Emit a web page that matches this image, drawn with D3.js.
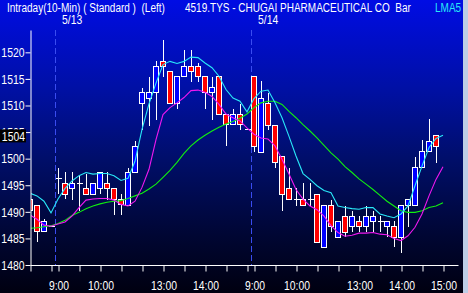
<!DOCTYPE html>
<html>
<head>
<meta charset="utf-8">
<script src="https://cdn.jsdelivr.net/npm/d3@7"></script>
<style>
  body { margin: 0; background: #000010; }
  svg { display: block; }
</style>
</head>
<body>
<div id="chart-area"></div>
<script>
// 10-minute bars, previous day's last 4 bars, then 5/13 and 5/14
const times = ["14:30","14:40","14:50","15:00",
  "9:00","9:10","9:20","9:30","9:40","9:50","10:00","10:10","10:20","10:30","10:40","10:50",
  "12:30","12:40","12:50","13:00","13:10","13:20","13:30","13:40","13:50","14:00","14:10","14:20","14:30","14:40","14:50","15:00",
  "9:00","9:10","9:20","9:30","9:40","9:50","10:00","10:10","10:20","10:30","10:40","10:50",
  "12:30","12:40","12:50","13:00","13:10","13:20","13:30","13:40","13:50","14:00","14:10","14:20","14:30","14:40","14:50","15:00"]
const dayLabels = ["5/13", "5/14"]
const labelTimes = ["9:00", "10:00", "13:00", "14:00", "15:00"]
const yTicks = [1480, 1485, 1490, 1495, 1500, 1505, 1510, 1515, 1520]
const lastPrice = 1504

const open  = [1492.3,1491.2,1486.3,1487.2,1496.2,1495.4,1494.4,1495.4,1494.4,1493.3,1494.4,1495.4,1494.4,1492.3,1491.2,1497.4,
  1510.3,1511.4,1512.4,1518.3,1516.4,1510.3,1515.4,1517.4,1517.4,1515.4,1512.4,1515.4,1508.4,1506.4,1508.4,1505.5,
  1515.4,1501.2,1510.4,1506.3,1500.4,1494.4,1492.4,1492.3,1492.4,1493.2,1483.3,1491.1,1485.2,1489.2,1487.2,1488.1,
  1487.2,1488.1,1488.2,1487.2,1487.2,1485.2,1491.1,1491.1,1498.3,1501.3,1504.4]
const high  = [1493.0,1491.2,1488.6,1487.2,1498.3,1497.5,1497.5,1496.9,1497.2,1495.4,1497.4,1497.4,1494.4,1493.3,1498.3,1503.4,
  1513.3,1515.4,1518.3,1522.4,1516.4,1515.4,1520.5,1520.5,1518.0,1515.4,1515.4,1515.4,1508.4,1509.4,1510.3,1505.5,
  1515.4,1514.6,1512.4,1506.3,1500.4,1498.3,1494.4,1495.4,1495.4,1493.2,1491.1,1492.2,1488.1,1491.1,1490.2,1489.2,
  1491.1,1490.2,1489.2,1488.2,1488.2,1491.1,1492.4,1500.4,1503.5,1507.4,1504.4]
const low   = [1490.0,1484.3,1486.3,1487.2,1493.3,1492.4,1492.3,1490.2,1493.3,1493.3,1493.3,1492.3,1489.4,1489.4,1491.2,1497.4,
  1505.4,1506.2,1507.2,1515.4,1510.3,1509.4,1515.4,1514.4,1514.4,1509.4,1507.2,1508.4,1502.3,1506.4,1505.4,1505.5,
  1501.2,1501.2,1505.4,1498.3,1490.2,1492.3,1491.1,1491.1,1491.1,1484.3,1483.3,1486.2,1485.2,1485.2,1486.2,1486.2,
  1486.2,1486.2,1486.2,1485.2,1483.3,1482.2,1487.2,1491.1,1498.3,1501.3,1499.2]
const close = [1490.3,1486.3,1488.2,1487.2,1496.2,1493.3,1495.4,1495.4,1493.3,1495.4,1497.4,1494.4,1492.3,1491.3,1497.4,1502.3,
  1512.4,1512.4,1517.4,1517.4,1510.3,1515.4,1517.4,1516.4,1515.4,1512.4,1513.3,1508.4,1506.4,1508.4,1506.4,1505.5,
  1502.2,1511.4,1506.3,1499.2,1493.2,1492.3,1492.4,1491.1,1492.4,1484.3,1491.1,1487.2,1488.1,1486.2,1489.2,1487.2,
  1489.2,1489.2,1488.2,1488.2,1485.2,1491.1,1492.4,1498.3,1501.3,1503.3,1502.3]

// moving averages
const maCyan = [1493.5,1493.0,1492.0,1489.8,1492.4,1494.4,1495.8,1496.8,1497.4,1497.1,1497.2,1497.2,1496.8,1495.9,1496.3,1499.5,
  1505.5,1510.3,1514.2,1517.7,1518.3,1517.9,1518.3,1519.1,1519.0,1518.0,1517.1,1515.5,1513.0,1511.4,1510.8,1508.8,
  1511.3,1512.7,1512.9,1510.5,1507.7,1504.2,1500.5,1497.2,1496.1,1494.9,1494.0,1493.6,1491.1,1490.8,1490.6,1490.5,
  1490.8,1490.8,1489.6,1489.2,1488.9,1489.6,1491.1,1494.9,1498.6,1502.1,1503.8,1504.4]
const maMagenta = [1489.4,1488.6,1487.5,1487.3,1487.7,1488.1,1489.2,1490.8,1492.2,1492.4,1492.5,1492.5,1492.2,1491.4,1491.1,1492.0,
  1494.6,1498.0,1503.6,1508.3,1509.6,1510.5,1511.5,1512.8,1512.9,1512.5,1511.7,1510.2,1508.4,1507.7,1507.1,1505.8,
  1504.6,1503.9,1503.7,1502.4,1499.9,1497.1,1494.2,1492.4,1491.1,1490.4,1489.2,1487.4,1486.1,1485.4,1485.6,1486.0,
  1486.0,1486.1,1485.8,1485.7,1485.0,1484.6,1485.5,1487.1,1489.6,1493.0,1496.1,1498.5]
const maGreen = [1486.9,1487.0,1487.2,1487.4,1487.8,1488.4,1489.3,1489.9,1490.6,1491.1,1491.5,1491.8,1492.0,1492.1,1492.5,1493.0,
  1493.5,1494.3,1495.2,1496.5,1497.8,1499.3,1501.0,1502.4,1503.5,1504.4,1505.2,1505.9,1506.5,1507.0,1507.6,1508.4,
  1509.6,1510.5,1510.8,1510.8,1510.2,1508.9,1507.7,1506.4,1505.2,1503.9,1502.5,1501.1,1499.9,1498.5,1497.4,1496.2,
  1495.2,1494.2,1493.1,1492.0,1491.1,1490.2,1489.9,1489.9,1490.2,1490.8,1491.1,1491.7]

const WIDTH = 468
const HEIGHT = 293
const PLOT = { LEFT: 30, RIGHT: 463, TOP: 30, BOTTOM: 265 }
const FONT = "'Liberation Sans', Arial, sans-serif"
const SQUEEZE = 0.8   // the original uses a narrow face

const svg = d3.select("#chart-area").append("svg")
  .attr("width", WIDTH)
  .attr("height", HEIGHT)
  .style("font-family", FONT)

// Background gradient
const grad = svg.append("defs").append("linearGradient")
  .attr("id", "bg")
  .attr("x1", 0).attr("y1", 0).attr("x2", 0).attr("y2", 1)
grad.selectAll("stop")
  .data([[0, "rgb(0,12,228)"], [0.3, "rgb(0,16,165)"], [0.55, "rgb(0,14,104)"], [0.8, "rgb(0,6,52)"], [1, "rgb(0,0,16)"]])
  .enter().append("stop")
    .attr("offset", d => d[0])
    .attr("stop-color", d => d[1])

svg.append("rect")
  .attr("width", WIDTH).attr("height", HEIGHT)
  .attr("fill", "url(#bg)")
svg.append("rect")
  .attr("x", PLOT.RIGHT).attr("width", WIDTH - PLOT.RIGHT).attr("height", HEIGHT)
  .attr("fill", "#bccde6")

svg.select("defs").append("clipPath")
  .attr("id", "plot-clip")
  .append("rect")
    .attr("x", PLOT.LEFT + 1).attr("y", PLOT.TOP)
    .attr("width", PLOT.RIGHT - PLOT.LEFT - 1).attr("height", PLOT.BOTTOM - PLOT.TOP)

// Scales
const x = d3.scaleLinear()
  .domain([0, 61])
  .range([PLOT.LEFT, 457])
const y = d3.scaleLinear()
  .domain([1480, 1524.2])
  .range([PLOT.BOTTOM, PLOT.TOP])

const plot = svg.append("g").attr("clip-path", "url(#plot-clip)")

// Day separators
const dayStarts = times.map((t, i) => i).filter(i => i > 0 && times[i] === "9:00")
plot.selectAll(".sep")
  .data(dayStarts)
  .enter().append("line")
    .attr("class", "sep")
    .attr("x1", i => x(i) - 2.5).attr("x2", i => x(i) - 2.5)
    .attr("y1", PLOT.TOP).attr("y2", PLOT.BOTTOM)
    .attr("stroke", "#3a4cf0")
    .attr("stroke-dasharray", "6,3")

// Candles
const bars = close.map((c, i) => ({ i, o: open[i], h: high[i], l: low[i], c }))
const candles = plot.selectAll(".candle")
  .data(bars)
  .enter().append("g")
    .attr("class", "candle")
    .attr("shape-rendering", "crispEdges")
candles.append("line")
  .attr("x1", d => x(d.i) + 0.5).attr("x2", d => x(d.i) + 0.5)
  .attr("y1", d => y(d.h)).attr("y2", d => y(d.l))
  .attr("stroke", "white")
candles.filter(d => d.o === d.c).append("line")
  .attr("x1", d => x(d.i) - 2.5).attr("x2", d => x(d.i) + 3.5)
  .attr("y1", d => y(d.c)).attr("y2", d => y(d.c))
  .attr("stroke", "white")
candles.filter(d => d.o !== d.c).append("rect")
  .attr("x", d => x(d.i) - 2.5)
  .attr("y", d => y(Math.max(d.o, d.c)))
  .attr("width", 5)
  .attr("height", d => Math.abs(y(d.o) - y(d.c)))
  .attr("fill", d => d.c > d.o ? "#0000ff" : "#ff0000")
  .attr("stroke", "white")

// Moving averages
const line = d3.line()
  .x((d, i) => x(i))
  .y(d => y(d))
plot.selectAll(".ma")
  .data([[maGreen, "#10f010"], [maMagenta, "#f018f0"], [maCyan, "#28e8f8"]])
  .enter().append("path")
    .attr("class", "ma")
    .attr("d", d => line(d[0]))
    .attr("fill", "none")
    .attr("stroke", d => d[1])
    .attr("stroke-width", 1.1)

// Y axis
const leftAxis = d3.axisLeft(y)
  .tickValues(yTicks)
  .tickFormat(d3.format("d"))
  .tickSize(5)
  .tickSizeOuter(0)
  .tickPadding(1)
svg.append("g")
  .attr("class", "left axis")
  .attr("transform", `translate(${PLOT.LEFT + 0.5}, 0)`)
  .call(leftAxis)
  .call(g => g.selectAll("line, path").attr("stroke", "white"))
  .call(g => g.selectAll("text")
    .attr("fill", "white")
    .attr("font-size", 13)
    .attr("font-family", FONT))

// X axis
const tickIdx = times.map((t, i) => i).filter(i => /:(00|30)$/.test(times[i]))
const bottomAxis = d3.axisBottom(x)
  .tickValues(tickIdx)
  .tickSize(6)
  .tickSizeOuter(0)
  .tickPadding(9)
  .tickFormat(i => labelTimes.includes(times[i]) && times[i + 1] !== "9:00" ? times[i] : "")
svg.append("g")
  .attr("class", "bottom axis")
  .attr("transform", `translate(0.5, ${PLOT.BOTTOM + 0.5})`)
  .call(bottomAxis)
  .call(g => g.select(".domain").attr("d", `M${PLOT.LEFT},0H458`))
  .call(g => g.selectAll("line, path").attr("stroke", "white"))
  .call(g => g.selectAll("text")
    .attr("fill", "white")
    .attr("font-size", 13)
    .attr("font-family", FONT))

// Last price marker
svg.append("rect")
  .attr("x", 0).attr("y", y(lastPrice) - 8)
  .attr("width", 26).attr("height", 13)
  .attr("fill", "black")
svg.append("text")
  .attr("x", 25).attr("y", y(lastPrice) + 3.5)
  .attr("text-anchor", "end")
  .attr("fill", "white")
  .attr("font-size", 13)
  .text(lastPrice)

// Day labels
svg.selectAll(".day")
  .data(dayStarts)
  .enter().append("text")
    .attr("class", "day")
    .attr("x", i => x(i) + 4)
    .attr("y", 24)
    .attr("fill", "white")
    .attr("font-size", 13)
    .text((d, k) => dayLabels[k])

// Title line
const titleParts = [
  { x: 7, text: "Intraday(10-Min) ( Standard )  (Left)", color: "white" },
  { x: 185, text: "4519.TYS - CHUGAI PHARMACEUTICAL CO  Bar", color: "white" },
  { x: 435, text: "LMA5", color: "#28e8f8" }
]
svg.selectAll(".title")
  .data(titleParts)
  .enter().append("text")
    .attr("class", "title")
    .attr("x", d => d.x)
    .attr("y", 12)
    .attr("font-size", 12.5)
    .attr("fill", d => d.color)
    .style("white-space", "pre")
    .text(d => d.text)

// Narrow the glyphs
svg.selectAll("text").each(function () {
  const w = this.getComputedTextLength()
  if (w > 0) {
    d3.select(this)
      .attr("textLength", w * SQUEEZE)
      .attr("lengthAdjust", "spacingAndGlyphs")
  }
})
</script>
</body>
</html>
